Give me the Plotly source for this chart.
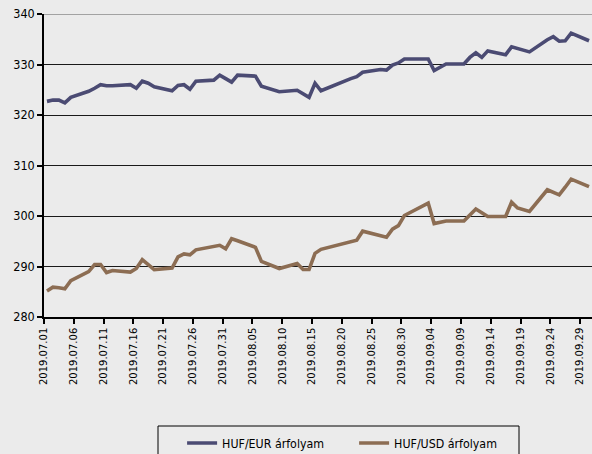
import pandas as pd
import plotly.graph_objects as go

dates = [
    "2019-07-01", "2019-07-02", "2019-07-03", "2019-07-04", "2019-07-05",
    "2019-07-08", "2019-07-09", "2019-07-10", "2019-07-11", "2019-07-12",
    "2019-07-15", "2019-07-16", "2019-07-17", "2019-07-18", "2019-07-19",
    "2019-07-22", "2019-07-23", "2019-07-24", "2019-07-25", "2019-07-26",
    "2019-07-29", "2019-07-30", "2019-07-31", "2019-08-01", "2019-08-02",
    "2019-08-05", "2019-08-06", "2019-08-07", "2019-08-08", "2019-08-09",
    "2019-08-12", "2019-08-13", "2019-08-14", "2019-08-15", "2019-08-16",
    "2019-08-21", "2019-08-22", "2019-08-23",
    "2019-08-26", "2019-08-27", "2019-08-28", "2019-08-29", "2019-08-30",
    "2019-09-02", "2019-09-03", "2019-09-04", "2019-09-05", "2019-09-06",
    "2019-09-09", "2019-09-10", "2019-09-11", "2019-09-12", "2019-09-13",
    "2019-09-16", "2019-09-17", "2019-09-18", "2019-09-19", "2019-09-20",
    "2019-09-23", "2019-09-24", "2019-09-25", "2019-09-26", "2019-09-27",
    "2019-09-30",
]

huf_eur = [
    322.7, 322.95, 322.95, 322.4, 323.5,
    324.7, 325.3, 326.0, 325.8, 325.8,
    326.0, 325.3, 326.7, 326.3, 325.6,
    324.8, 325.85, 326.0, 325.1, 326.7,
    326.9, 327.9, 327.2, 326.5, 327.9,
    327.7, 325.7, 325.3, 324.9, 324.6,
    324.9, 324.2, 323.5, 326.3, 324.8,
    327.2, 327.6, 328.45,
    329.0, 328.9, 329.9, 330.3, 331.1,
    331.1, 331.1, 328.8, 329.5, 330.1,
    330.1, 331.4, 332.3, 331.4, 332.7,
    331.95, 333.5, 333.2, 332.8, 332.5,
    334.9, 335.5, 334.6, 334.7, 336.2,
    334.7,
]

huf_usd = [
    285.15, 285.9, 285.8, 285.6, 287.2,
    289.0, 290.4, 290.4, 288.8, 289.2,
    288.9, 289.6, 291.35, 290.4, 289.4,
    289.7, 291.9, 292.5, 292.3, 293.3,
    294.0, 294.2, 293.5, 295.5, 295.1,
    293.8, 291.0, 290.5, 290.0, 289.6,
    290.6, 289.4, 289.4, 292.6, 293.4,
    294.9, 295.2, 297.0,
    296.1, 295.8, 297.4, 298.1, 300.1,
    301.9, 302.55, 298.5, 298.8, 299.0,
    299.0, 300.2, 301.4, 300.65, 299.9,
    299.9, 302.75, 301.6, 301.2, 300.9,
    305.2, 304.7, 304.2, 305.7, 307.3,
    305.8,
]

series_names = ["HUF/EUR árfolyam", "HUF/USD árfolyam"]
y_ticks = [280, 290, 300, 310, 320, 330, 340]

# Points sit in the middle of each day slot on the date axis
x_pos = pd.to_datetime(dates) + pd.Timedelta(hours=12)

BG = "#EBEBEB"
COND = "DejaVu Sans Condensed, Liberation Sans Narrow, sans-serif"

fig = go.Figure()
fig.add_trace(go.Scatter(x=x_pos, y=huf_eur, mode="lines", name=series_names[0],
                         line=dict(color="#4B4B73", width=3.6)))
fig.add_trace(go.Scatter(x=x_pos, y=huf_usd, mode="lines", name=series_names[1],
                         line=dict(color="#8C6D53", width=3.6)))

fig.update_layout(
    width=592, height=454,
    paper_bgcolor=BG, plot_bgcolor=BG,
    margin=dict(l=44, r=0, t=14, b=137, autoexpand=False),
    showlegend=True,
    legend=dict(
        orientation="h", x=0.252, xanchor="left", y=-0.368, yanchor="top",
        borderwidth=0, bgcolor="rgba(0,0,0,0)",
        font=dict(family=COND, size=12.3, color="#000000"),
        entrywidth=127, entrywidthmode="pixels",
    ),
    xaxis=dict(
        type="date",
        range=["2019-07-01", "2019-10-01"],
        tick0="2019-07-01", dtick=5 * 86400000,
        tickformat="%Y.%m.%d", tickangle=-90,
        showgrid=False, zeroline=False,
        showline=True, linecolor="#000000", linewidth=1.5,
        ticks="outside", ticklen=5, tickcolor="#000000", tickwidth=1.5,
        tickfont=dict(family="DejaVu Sans, Verdana, sans-serif", size=10, color="#000000"),
    ),
    yaxis=dict(
        range=[280, 340], tickvals=y_ticks,
        showgrid=True, gridcolor="#1a1a1a", gridwidth=1.3,
        zeroline=False,
        showline=True, linecolor="#000000", linewidth=1.5,
        ticks="outside", ticklen=5, tickcolor="#000000", tickwidth=1.5,
        tickfont=dict(family=COND, size=12.5, color="#000000"),
    ),
    shapes=[
        dict(type="line", xref="paper", yref="y", x0=0, x1=1, y0=340, y1=340,
             line=dict(color="#8a8a8a", width=1.5), layer="above"),
        dict(type="rect", xref="paper", yref="paper",
             x0=(158 - 44) / 548, x1=(519 - 44) / 548,
             y0=(317 - 426) / 303, y1=(317 - 480) / 303,
             line=dict(color="#000000", width=1), fillcolor="rgba(0,0,0,0)"),
    ],
)

fig.write_html("out.html", config={"displayModeBar": False},
               post_script="document.body.style.margin='0';")
